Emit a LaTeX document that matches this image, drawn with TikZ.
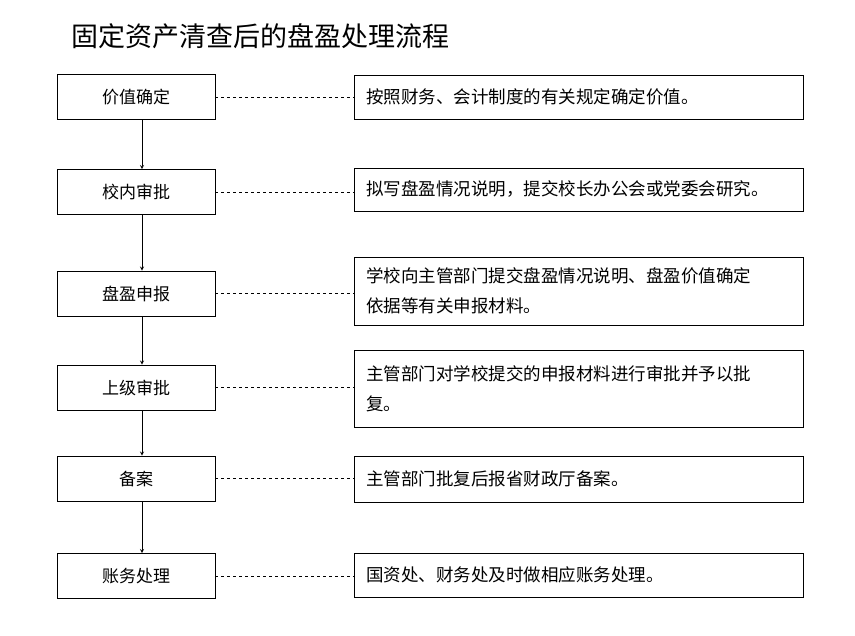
\documentclass[tikz,border=0pt]{standalone}
\usepackage{fontspec}
\setmainfont{Noto Sans CJK SC}
\usetikzlibrary{positioning}
\begin{document}
\begin{tikzpicture}[x=1pt,y=-1pt,
    stepbox/.style={draw,thick,minimum width=158pt,minimum height=45pt,font=\fontsize{17}{20}\selectfont},
    notebox/.style={draw,thick,minimum width=449pt,align=left,text width=425pt,font=\fontsize{17.5}{30}\selectfont},
    flow/.style={->,>=stealth,thick},
    link/.style={dashed}]
  \useasboundingbox (0,0) rectangle (855,636);
  \node[anchor=west,font=\fontsize{27}{30}\selectfont] (title) at (68,36) {固定资产清查后的盘盈处理流程};
  \node[stepbox] (s1) at (136,97) {价值确定};
  \node[stepbox] (s2) at (136,192) {校内审批};
  \node[stepbox] (s3) at (136,293.5) {盘盈申报};
  \node[stepbox] (s4) at (136,387.5) {上级审批};
  \node[stepbox] (s5) at (136,478.5) {备案};
  \node[stepbox] (s6) at (136,576) {账务处理};
  \node[notebox,minimum height=44pt] (n1) at (578.5,97) {按照财务、会计制度的有关规定确定价值。};
  \node[notebox,minimum height=43pt] (n2) at (578.5,189.5) {拟写盘盈情况说明，提交校长办公会或党委会研究。};
  \node[notebox,minimum height=68pt] (n3) at (578.5,291) {学校向主管部门提交盘盈情况说明、盘盈价值确定\\依据等有关申报材料。};
  \node[notebox,minimum height=77pt] (n4) at (578.5,388.5) {主管部门对学校提交的申报材料进行审批并予以批\\复。\\[-6pt]};
  \node[notebox,minimum height=46pt] (n5) at (578.5,479) {主管部门批复后报省财政厅备案。};
  \node[notebox,minimum height=44pt] (n6) at (578.5,575) {国资处、财务处及时做相应账务处理。};
  \foreach \a/\b in {s1/s2,s2/s3,s3/s4,s4/s5,s5/s6}
    \draw[flow] ([xshift=6pt]\a.south) -- ([xshift=6pt]\b.north);
  \foreach \i in {1,...,6}
    \draw[link] (s\i.east) -- (s\i.east -| n\i.west);
\end{tikzpicture}
\end{document}
